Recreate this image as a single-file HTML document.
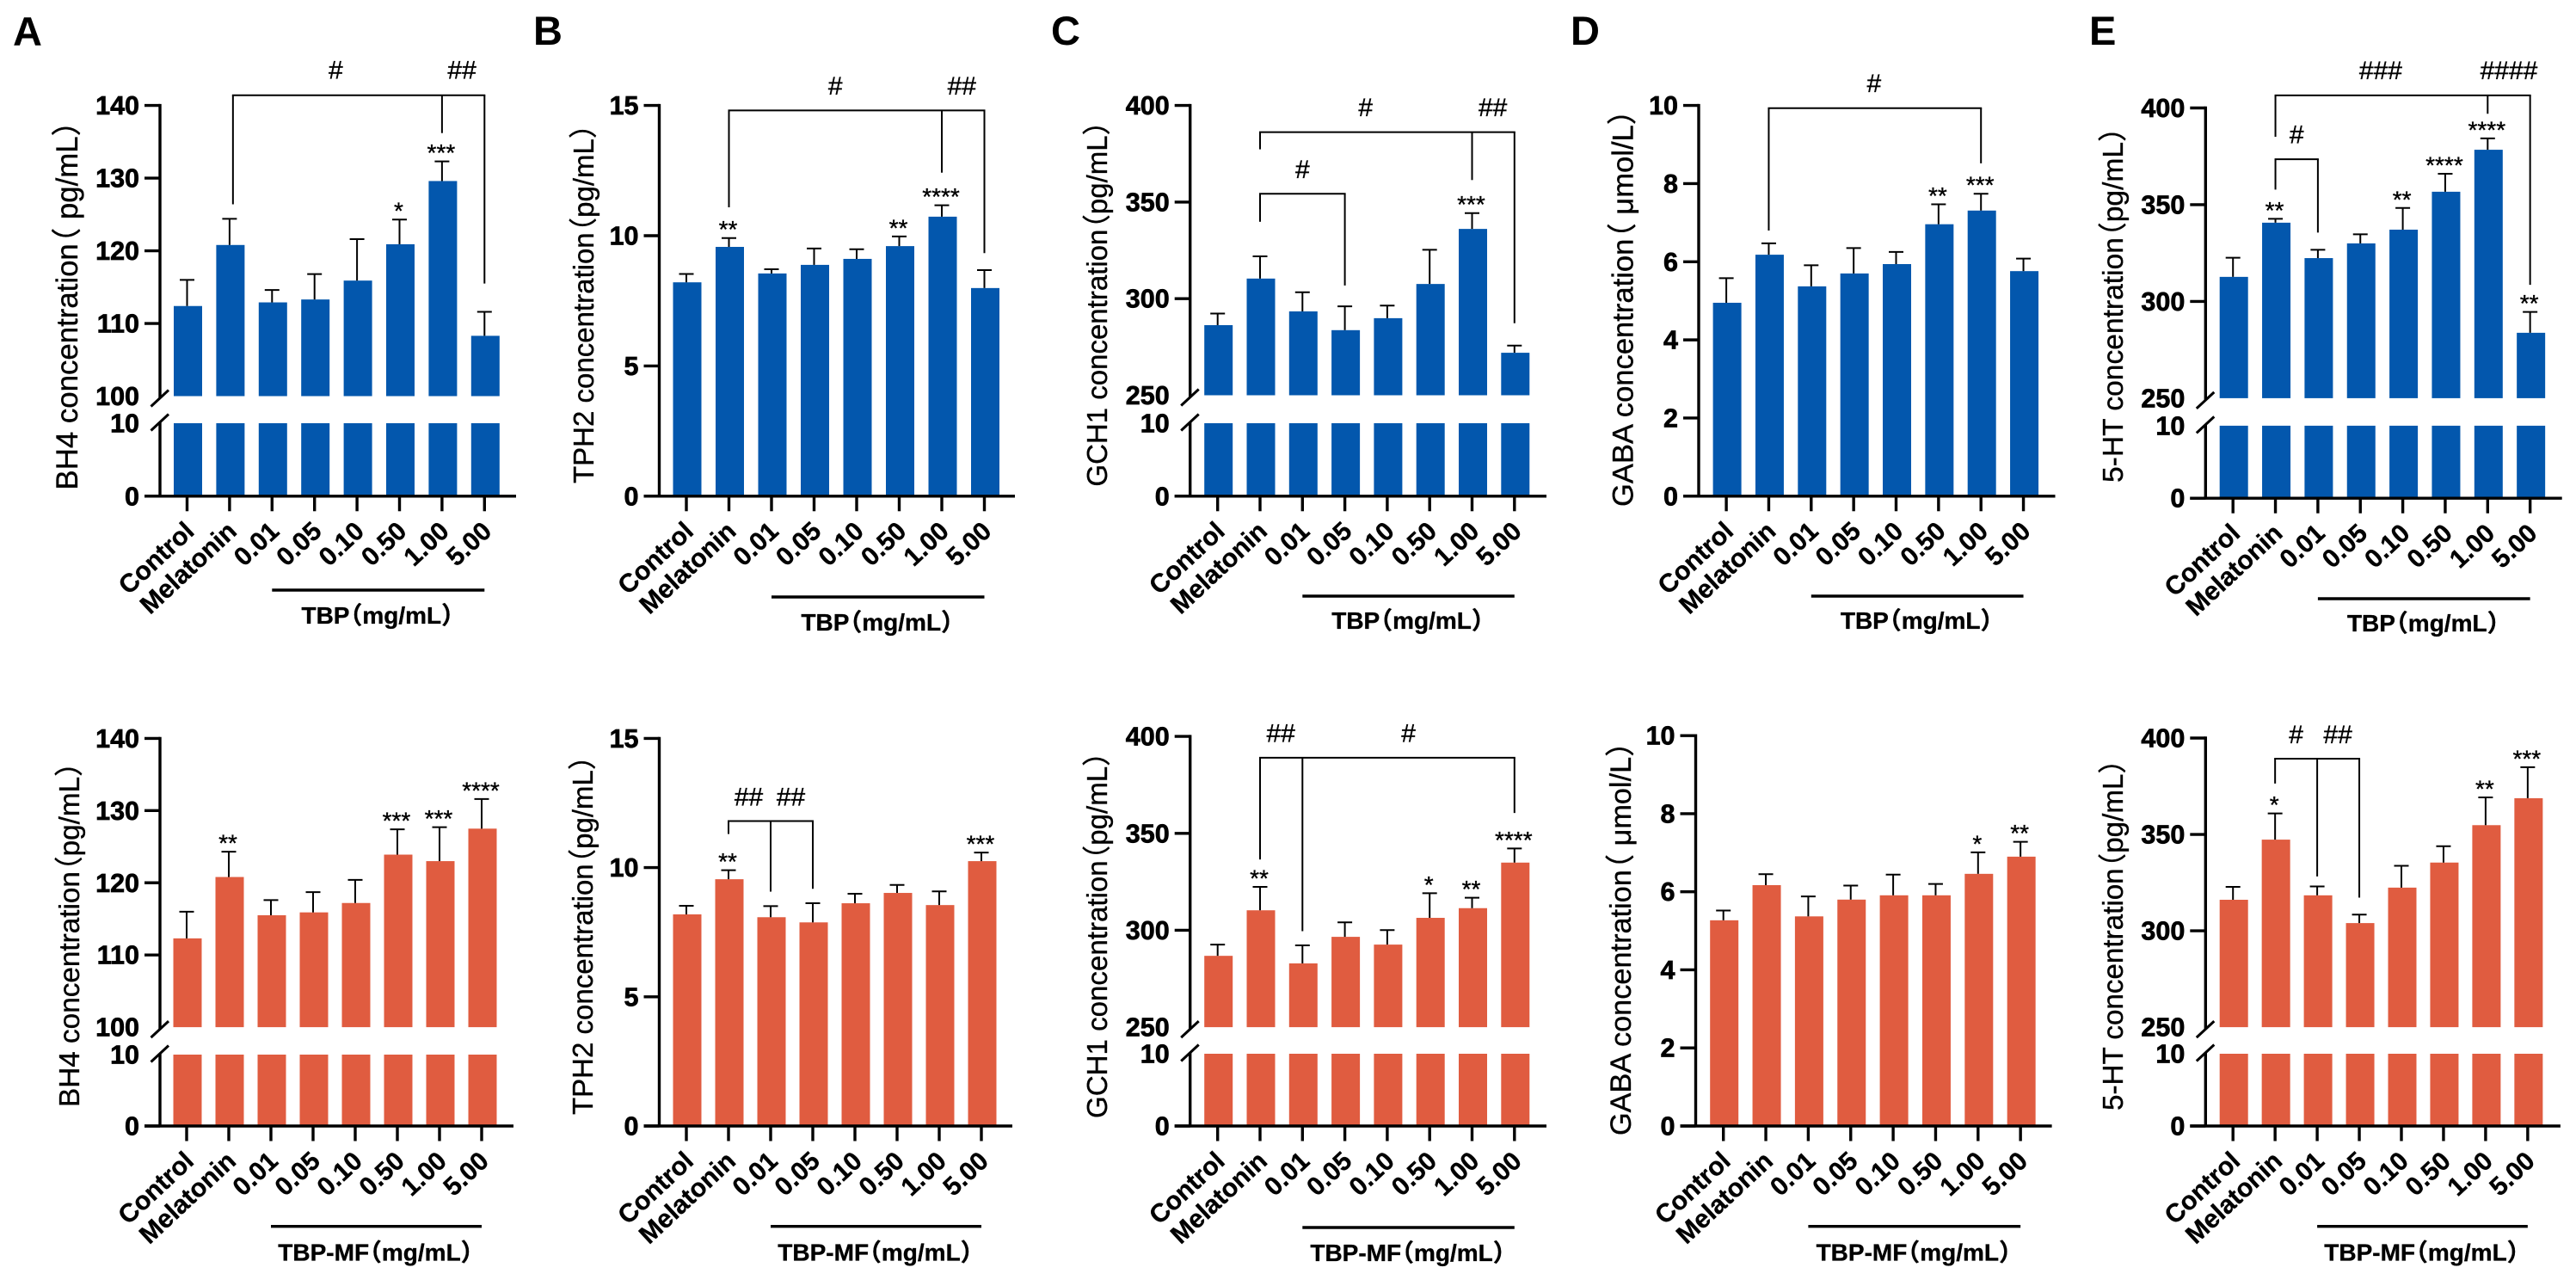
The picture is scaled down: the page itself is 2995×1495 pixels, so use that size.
<!DOCTYPE html>
<html lang="en">
<head>
<meta charset="utf-8">
<title>BH4, TPH2, GCH1, GABA and 5-HT concentration bar charts</title>
<style>
html,body{margin:0;padding:0;background:#fff;}
body{width:2995px;height:1495px;overflow:hidden;}
svg{display:block;}
text{font-family:"Liberation Sans","Noto Sans CJK SC",sans-serif;fill:#000;}
.heavy{stroke:#000;stroke-width:0.7;}
.medium{stroke:#000;stroke-width:0.35;}
</style>
</head>
<body>
<svg id="fig" xmlns="http://www.w3.org/2000/svg" width="2995" height="1495" viewBox="0 0 2995 1495"></svg>
<script>
/* ---------- data ---------- */
const categories = ['Control','Melatonin','0.01','0.05','0.10','0.50','1.00','5.00'];

const bh4TickLabels = [0,10,100,110,120,130,140];
const tph2TickLabels = [0,5,10,15];
const gch1TickLabels = [0,10,250,300,350,400];
const gabaTickLabels = [0,2,4,6,8,10];
const htTickLabels = [0,10,250,300,350,400];

const bh4TbpValues = [112.4,120.8,112.9,113.3,115.9,120.9,129.6,108.3];
const bh4TbpSem = [3.6,3.6,1.7,3.5,5.7,3.4,2.7,3.3];
const bh4TbpStars = ['','','','','','*','***',''];

const tph2TbpValues = [8.21,9.57,8.55,8.88,9.11,9.60,10.73,7.99];
const tph2TbpSem = [0.32,0.34,0.16,0.63,0.37,0.37,0.44,0.69];
const tph2TbpStars = ['','**','','','','**','****',''];

const gch1TbpValues = [286.3,310.4,293.4,283.7,289.9,307.6,336.1,272];
const gch1TbpSem = [6,11.5,9.9,12.3,6.5,17.7,8.2,3.7];
const gch1TbpStars = ['','','','','','','***',''];

const gabaTbpValues = [4.95,6.18,5.37,5.70,5.94,6.96,7.31,5.76];
const gabaTbpSem = [0.63,0.29,0.54,0.65,0.31,0.51,0.43,0.32];
const gabaTbpStars = ['','','','','','**','***',''];

const htTbpValues = [312.7,340.7,322.4,330,337.1,356.7,378.4,283.8];
const htTbpSem = [9.9,2,4.3,4.7,11.2,9.3,5.9,10.8];
const htTbpStars = ['','**','','','**','****','****','**'];

const bh4MfValues = [112.3,120.8,115.5,115.9,117.2,123.9,123.0,127.5];
const bh4MfSem = [3.7,3.5,2.1,2.8,3.2,3.5,4.7,4.1];
const bh4MfStars = ['','**','','','','***','***','****'];

const tph2MfValues = [8.19,9.55,8.08,7.88,8.62,9.02,8.55,10.25];
const tph2MfSem = [0.33,0.35,0.43,0.74,0.37,0.31,0.53,0.33];
const tph2MfStars = ['','**','','','','','','***'];

const gch1MfValues = [286.8,310.3,282.9,296.6,292.6,306.4,311.4,334.9];
const gch1MfSem = [5.8,12.1,9.3,7.5,7.5,12.7,5.4,7.3];
const gch1MfStars = ['','**','','','','*','**','****'];

const gabaMfValues = [5.27,6.17,5.37,5.80,5.91,5.91,6.46,6.90];
const gabaMfSem = [0.25,0.28,0.51,0.36,0.53,0.29,0.55,0.38];
const gabaMfStars = ['','','','','','','*','**'];

const htMfValues = [316.1,347.3,318.4,304,322.4,335.4,354.8,368.8];
const htMfSem = [6.7,13.6,4.6,4.4,11.3,8.5,14.4,16.1];
const htMfStars = ['','*','','','','','**','***'];

/* comparison brackets: bar y and leg ends in axis units, legs located by category index */
const bh4TbpBrackets = [{y:141.4,legs:[[1.08,126.4],[6,136.2],[7,115.5]]}];
const bh4TbpHashes = [{at:3.5,y:144.9,text:'#'},{at:6.47,y:144.9,text:'##'}];
const tph2TbpBrackets = [{y:14.81,legs:[[1,11.09],[6,12.42],[7,9.33]]}];
const tph2TbpHashes = [{at:3.5,y:15.77,text:'#'},{at:6.47,y:15.77,text:'##'}];
const gch1TbpBrackets = [{y:386.2,legs:[[1,377.3],[6,361.4],[7,287.3]]},{y:354.3,legs:[[1,339.8],[3,306.8]]}];
const gch1TbpHashes = [{at:3.49,y:399.1,text:'#'},{at:6.49,y:399.1,text:'##'},{at:2,y:367.2,text:'#'}];
const gabaTbpBrackets = [{y:9.93,legs:[[1,6.80],[6,8.52]]}];
const gabaTbpHashes = [{at:3.48,y:10.57,text:'#'}];
const htTbpBrackets = [{y:406.5,legs:[[1,385.1],[6,397],[7,308.6]]},{y:373.5,legs:[[1,357.8],[2,335.6]]}];
const htTbpHashes = [{at:3.48,y:419.6,text:'###'},{at:6.5,y:419.6,text:'####'},{at:1.5,y:386.4,text:'#'}];
const tph2MfBrackets = [{y:11.8,legs:[[1,11.3],[2,9.07],[3,9.18]]}];
const tph2MfHashes = [{at:1.48,y:12.75,text:'##'},{at:2.48,y:12.75,text:'##'}];
const gch1MfBrackets = [{y:389,legs:[[1,336.5],[2,299.5],[7,360.5]]}];
const gch1MfHashes = [{at:1.49,y:401.9,text:'##'},{at:4.5,y:401.9,text:'#'}];
const htMfBrackets = [{y:389.3,legs:[[1,376.4],[2,328.2],[3,317.2]]}];
const htMfHashes = [{at:1.5,y:401.9,text:'#'},{at:2.49,y:401.9,text:'##'}];

/* ---------- layout ---------- */
const BLUE = '#0357ad';
const ORANGE = '#e05c40';

const panels = [
 {id:'bh4-tbp',letter:'A',lx:15,ly:53,axisX:186,xEnd:600,x0:217.5,dx:49.4,yTop:122.6,yBreak:460.5,y10:492,y0:576.8,vMax:140,vBase:100,ticks:bh4TickLabels,color:BLUE,values:bh4TbpValues,sem:bh4TbpSem,stars:bh4TbpStars,brackets:bh4TbpBrackets,hashes:bh4TbpHashes,title:'BH4 concentration（ pg/mL）',tx:90,tb:569.5,fs:34.8,group:'TBP（mg/mL）',underY:686,gy:725},
 {id:'tph2-tbp',letter:'B',lx:620,ly:52,axisX:766.5,xEnd:1180,x0:798,dx:49.5,yTop:122.6,yBreak:null,y10:null,y0:576.8,vMax:15,vBase:0,ticks:tph2TickLabels,color:BLUE,values:tph2TbpValues,sem:tph2TbpSem,stars:tph2TbpStars,brackets:tph2TbpBrackets,hashes:tph2TbpHashes,title:'TPH2 concentration（pg/mL）',tx:690,tb:562,fs:33,group:'TBP（mg/mL）',underY:694,gy:733},
 {id:'gch1-tbp',letter:'C',lx:1222,ly:52,axisX:1383.7,xEnd:1798,x0:1415.7,dx:49.3,yTop:122.6,yBreak:459.5,y10:492,y0:576.8,vMax:400,vBase:250,ticks:gch1TickLabels,color:BLUE,values:gch1TbpValues,sem:gch1TbpSem,stars:gch1TbpStars,brackets:gch1TbpBrackets,hashes:gch1TbpHashes,title:'GCH1 concentration（pg/mL）',tx:1287,tb:565.6,fs:33,group:'TBP（mg/mL）',underY:693,gy:731},
 {id:'gaba-tbp',letter:'D',lx:1826,ly:52,axisX:1975,xEnd:2389.5,x0:2007.1,dx:49.35,yTop:122.6,yBreak:null,y10:null,y0:576.8,vMax:10,vBase:0,ticks:gabaTickLabels,color:BLUE,values:gabaTbpValues,sem:gabaTbpSem,stars:gabaTbpStars,brackets:gabaTbpBrackets,hashes:gabaTbpHashes,title:'GABA concentration（ μmol/L）',tx:1898.5,tb:589,fs:34.6,group:'TBP（mg/mL）',underY:693,gy:731},
 {id:'ht-tbp',letter:'E',lx:2429,ly:52,axisX:2564.3,xEnd:2978.7,x0:2596.2,dx:49.35,yTop:125.5,yBreak:462.9,y10:494.9,y0:579.2,vMax:400,vBase:250,ticks:htTickLabels,color:BLUE,values:htTbpValues,sem:htTbpSem,stars:htTbpStars,brackets:htTbpBrackets,hashes:htTbpHashes,title:'5-HT concentration（pg/mL）',tx:2468,tb:561,fs:33.6,group:'TBP（mg/mL）',underY:696,gy:734},
 {id:'bh4-mf',letter:'',axisX:186,xEnd:597,x0:217,dx:49,yTop:858.4,yBreak:1194.1,y10:1226,y0:1309,vMax:140,vBase:100,ticks:bh4TickLabels,color:ORANGE,values:bh4MfValues,sem:bh4MfSem,stars:bh4MfStars,brackets:[],hashes:[],title:'BH4 concentration（pg/mL）',tx:92,tb:1287,fs:33.3,group:'TBP-MF（mg/mL）',underY:1425.7,gy:1465.5},
 {id:'tph2-mf',letter:'',axisX:766.5,xEnd:1177,x0:798,dx:49,yTop:858.4,yBreak:null,y10:null,y0:1309,vMax:15,vBase:0,ticks:tph2TickLabels,color:ORANGE,values:tph2MfValues,sem:tph2MfSem,stars:tph2MfStars,brackets:tph2MfBrackets,hashes:tph2MfHashes,title:'TPH2 concentration（pg/mL）',tx:689,tb:1296,fs:33,group:'TBP-MF（mg/mL）',underY:1425.7,gy:1465.5},
 {id:'gch1-mf',letter:'',axisX:1383.7,xEnd:1798,x0:1415.7,dx:49.3,yTop:856.1,yBreak:1194.1,y10:1225,y0:1309,vMax:400,vBase:250,ticks:gch1TickLabels,color:ORANGE,values:gch1MfValues,sem:gch1MfSem,stars:gch1MfStars,brackets:gch1MfBrackets,hashes:gch1MfHashes,title:'GCH1 concentration（pg/mL）',tx:1287,tb:1300,fs:33.1,group:'TBP-MF（mg/mL）',underY:1427,gy:1466},
 {id:'gaba-mf',letter:'',axisX:1971.5,xEnd:2385.6,x0:2003.7,dx:49.35,yTop:855.2,yBreak:null,y10:null,y0:1309,vMax:10,vBase:0,ticks:gabaTickLabels,color:ORANGE,values:gabaMfValues,sem:gabaMfSem,stars:gabaMfStars,brackets:[],hashes:[],title:'GABA concentration（ μmol/L）',tx:1896,tb:1320,fs:34.3,group:'TBP-MF（mg/mL）',underY:1425.7,gy:1465.5},
 {id:'ht-mf',letter:'',axisX:2564.3,xEnd:2976.9,x0:2596.2,dx:48.95,yTop:858,yBreak:1194.1,y10:1225,y0:1309,vMax:400,vBase:250,ticks:htTickLabels,color:ORANGE,values:htMfValues,sem:htMfSem,stars:htMfStars,brackets:htMfBrackets,hashes:htMfHashes,title:'5-HT concentration（pg/mL）',tx:2468,tb:1291,fs:33.2,group:'TBP-MF（mg/mL）',underY:1425.7,gy:1465.5}
];

/* ---------- drawing ---------- */
const svg = document.getElementById('fig');
const NS = 'http://www.w3.org/2000/svg';
const BAR_W = 33, CAP_W = 17, AXIS_W = 3.4, THIN_W = 2;

function make(tag, parent, props, content){
  const node = document.createElementNS(NS, tag);
  for (const k in props) node.setAttribute(k, props[k]);
  if (content !== undefined) node.textContent = content;
  parent.appendChild(node);
  return node;
}
function makeLine(parent, x1, y1, x2, y2, w){
  return make('line', parent, {x1:x1, y1:y1, x2:x2, y2:y2, stroke:'#000', 'stroke-width':w});
}
/* writes "main（unit）" with the wide CJK opening bracket pulled tight against the main text */
function fillBracketed(textNode, str, fontSize){
  const parts = str.split('（');
  make('tspan', textNode, {}, parts[0]);
  make('tspan', textNode, {dx:-0.47 * fontSize}, '（');
  make('tspan', textNode, {}, parts[1]);
}

function drawPanel(p){
  const g = make('g', svg, {});
  
  

  const broken = p.yBreak !== null;
  const xScale = i => p.x0 + i * p.dx;
  const yScale = v => {
    if (!broken) return p.y0 - v / p.vMax * (p.y0 - p.yTop);
    if (v <= 10) return p.y0 - v / 10 * (p.y0 - p.y10);
    return p.yBreak - (v - p.vBase) / (p.vMax - p.vBase) * (p.yBreak - p.yTop);
  };

  /* bars */
  p.values.forEach((v, i) => {
    const cx = xScale(i) + 1;
    if (broken) {
      const upper = make('rect', g, {x:cx - BAR_W / 2, y:yScale(v), width:BAR_W, height:p.yBreak - yScale(v), fill:p.color});
      
      
      const lower = make('rect', g, {x:cx - BAR_W / 2, y:p.y10, width:BAR_W, height:p.y0 - p.y10, fill:p.color});
      
      
    } else {
      const bar = make('rect', g, {x:cx - BAR_W / 2, y:yScale(v), width:BAR_W, height:p.y0 - yScale(v), fill:p.color});
      
      
    }
    /* error bar */
    const top = yScale(v + p.sem[i]);
    const stem = makeLine(g, xScale(i), yScale(v), xScale(i), top, THIN_W);
    
    
    const cap = makeLine(g, xScale(i) - CAP_W / 2, top, xScale(i) + CAP_W / 2, top, THIN_W);
    
    
    /* significance stars */
    if (p.stars[i]) {
      const star = make('text', g, {x:xScale(i) - 1, y:top - 0.5, 'font-size':28, 'text-anchor':'middle', class:'medium'}, p.stars[i]);
      
      
    }
  });

  /* axes */
  if (broken) {
    const upperAxis = makeLine(g, p.axisX, p.yTop - AXIS_W / 2, p.axisX, p.yBreak + 2, AXIS_W);
    
    
    const lowerAxis = makeLine(g, p.axisX, p.y10 - 1, p.axisX, p.y0, AXIS_W);
    
    
    const slashU = makeLine(g, p.axisX - 10.5, p.yBreak + 12, p.axisX + 10, p.yBreak - 7, 3);
    
    
    const slashL = makeLine(g, p.axisX - 10.5, p.y10 + 8.5, p.axisX + 10, p.y10 - 10.5, 3);
    
    
  } else {
    const axis = makeLine(g, p.axisX, p.yTop - AXIS_W / 2, p.axisX, p.y0, AXIS_W);
    
    
  }
  const xAxis = makeLine(g, p.axisX - 18, p.y0, p.xEnd, p.y0, AXIS_W);
  
  

  /* y ticks and labels */
  p.ticks.forEach(t => {
    const y = yScale(t);
    const hasMark = !broken || (t !== 10 && t !== p.vBase);
    if (hasMark) {
      const tick = makeLine(g, p.axisX - 18, y, p.axisX, y, AXIS_W);
      
      
    }
    const label = make('text', g, {x:p.axisX - 24, y:y + 10.5, 'font-size':30.5, 'font-weight':700, 'text-anchor':'end', class:'heavy'}, String(t));
    
    
  });

  /* x ticks and labels */
  categories.forEach((c, i) => {
    const x = xScale(i);
    const tick = makeLine(g, x, p.y0, x, p.y0 + 17.5, AXIS_W);
    
    
    const lx = x + 10, ly = p.y0 + 43;
    const label = make('text', g, {x:lx, y:ly, 'font-size':30, 'font-weight':700, 'text-anchor':'end', transform:'rotate(-43 ' + lx + ' ' + ly + ')', class:'medium'}, c);
    
    
  });

  /* group underline and label */
  const under = makeLine(g, xScale(2), p.underY, xScale(7), p.underY, 3.4);
  
  
  const groupLabel = make('text', g, {x:(xScale(2) + xScale(7)) / 2 + 6, y:p.gy, 'font-size':28, 'font-weight':700, 'text-anchor':'middle', class:'medium'});
  fillBracketed(groupLabel, p.group, 28);
  
  

  /* y-axis title */
  const title = make('text', g, {x:0, y:0, 'font-size':p.fs, 'text-anchor':'start', transform:'translate(' + p.tx + ' ' + p.tb + ') rotate(-90)', class:'medium'});
  fillBracketed(title, p.title, p.fs);
  
  

  /* panel letter */
  if (p.letter) {
    const letter = make('text', g, {x:p.lx, y:p.ly, 'font-size':47, 'font-weight':700}, p.letter);
    
    
  }

  /* comparison brackets */
  p.brackets.forEach(b => {
    const xs = b.legs.map(l => xScale(l[0]));
    const by = yScale(b.y);
    const span = makeLine(g, Math.min.apply(null, xs) - 1, by, Math.max.apply(null, xs) + 1, by, THIN_W);
    
    
    b.legs.forEach(l => {
      const leg = makeLine(g, xScale(l[0]), by, xScale(l[0]), yScale(l[1]), THIN_W);
      
      
    });
  });
  p.hashes.forEach(h => {
    const mark = make('text', g, {x:xScale(h.at), y:yScale(h.y) + 10.5, 'font-size':30, 'text-anchor':'middle', class:'medium'}, h.text);
    
    
  });
}

panels.forEach(drawPanel);
</script>
</body>
</html>
